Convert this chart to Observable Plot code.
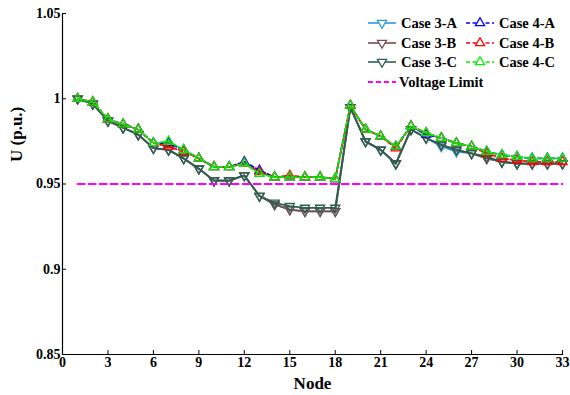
<!DOCTYPE html>
<html>
<head>
<meta charset="utf-8">
<script src="https://cdn.jsdelivr.net/npm/d3@7"></script>
<script src="https://cdn.jsdelivr.net/npm/@observablehq/plot@0.6"></script>
<style>
  html, body { margin: 0; padding: 0; background: #fff; }
  #wrap { position: relative; width: 570px; height: 395px; }
  #wrap svg { font-family: "Liberation Serif", "Times New Roman", serif; }
</style>
</head>
<body>
<div id="wrap"></div>
<script>
const nodes = [1,2,3,4,5,6,7,8,9,10,11,12,13,14,15,16,17,18,19,20,21,22,23,24,25,26,27,28,29,30,31,32,33];

const case3A = [1.000,0.997,0.987,0.983,0.979,0.971,0.970,0.965,0.959,0.952,0.952,0.955,0.943,0.938,0.935,0.934,0.934,0.934,0.995,0.975,0.970,0.962,0.982,0.977,0.972,0.969,0.968,0.965,0.963,0.962,0.962,0.962,0.962];
const case3B = [1.000,0.997,0.987,0.983,0.979,0.971,0.970,0.965,0.959,0.952,0.952,0.955,0.943,0.938,0.935,0.934,0.934,0.934,0.995,0.975,0.970,0.962,0.982,0.977,0.973,0.970,0.968,0.965,0.963,0.962,0.962,0.962,0.962];
const case3C = [1.000,0.997,0.987,0.983,0.979,0.971,0.970,0.965,0.959,0.952,0.952,0.955,0.943,0.939,0.937,0.936,0.936,0.936,0.995,0.975,0.970,0.962,0.982,0.977,0.973,0.970,0.968,0.966,0.963,0.962,0.962,0.962,0.962];
const case4A = [1.000,0.998,0.988,0.985,0.982,0.974,0.974,0.970,0.965,0.960,0.960,0.963,0.958,0.954,0.954,0.954,0.954,0.953,0.996,0.982,0.978,0.972,0.984,0.979,0.977,0.974,0.972,0.969,0.967,0.966,0.965,0.965,0.965];
const case4B = [1.000,0.998,0.988,0.985,0.982,0.974,0.972,0.969,0.965,0.960,0.960,0.962,0.957,0.954,0.955,0.954,0.954,0.953,0.996,0.982,0.978,0.971,0.984,0.980,0.977,0.974,0.972,0.968,0.965,0.964,0.963,0.963,0.963];
const case4C = [1.000,0.998,0.988,0.985,0.982,0.974,0.975,0.970,0.965,0.960,0.960,0.962,0.956,0.954,0.954,0.954,0.954,0.953,0.996,0.982,0.978,0.972,0.984,0.980,0.977,0.974,0.972,0.969,0.967,0.966,0.965,0.965,0.965];

const seriesNames = ["Case 3-A","Case 3-B","Case 3-C","Case 4-A","Case 4-B","Case 4-C"];
const seriesValues = [case3A, case3B, case3C, case4A, case4B, case4C];
const seriesColors = ["#2b9bd6","#7b4b4b","#2f5f4c","#0000ff","#ff0000","#00ee00"];
const seriesDash = [null, null, null, "4,2.5", "4,2.5", "4,2.5"];
const seriesDown = [true, true, true, false, false, false];

const voltageLimit = 0.95;
const limitNodes = [1, 33];
const limitName = "Voltage Limit";
const limitColor = "#ff00ff";

const xTicks = [0,3,6,9,12,15,18,21,24,27,30,33];
const yTicks = [0.85,0.9,0.95,1,1.05];

// inverted triangle symbol
const triangleDown = {
  draw(context, size) {
    const y = -Math.sqrt(size / (Math.sqrt(3) * 3));
    context.moveTo(0, -y * 2);
    context.lineTo(-Math.sqrt(3) * y, y);
    context.lineTo(Math.sqrt(3) * y, y);
    context.closePath();
  }
};

const marks = [];
seriesNames.forEach((name, i) => {
  const data = nodes.map((n, j) => ({node: n, u: seriesValues[i][j]}));
  marks.push(Plot.line(data, {x: "node", y: "u", stroke: seriesColors[i], strokeWidth: 1.8, strokeDasharray: seriesDash[i]}));
  marks.push(Plot.dot(data, {x: "node", y: "u", stroke: seriesColors[i], strokeWidth: 1.3, fill: "none", r: 3.4, symbol: seriesDown[i] ? triangleDown : "triangle"}));
});
marks.push(Plot.line(limitNodes.map(n => ({node: n, u: voltageLimit})), {x: "node", y: "u", stroke: limitColor, strokeWidth: 2, strokeDasharray: "7,4"}));

const chart = Plot.plot({
  width: 570,
  height: 395,
  marginLeft: 62,
  marginRight: 8,
  marginTop: 13,
  marginBottom: 41,
  style: {fontFamily: "'Liberation Serif', 'Times New Roman', serif", background: "#fff"},
  x: {domain: [0, 33]},
  y: {domain: [0.85, 1.05]},
  marks: [
    ...marks,
    Plot.axisX({ticks: xTicks, tickSize: -4, tickPadding: 7, tickFormat: d => String(d), fontSize: 14, fontWeight: "bold", label: null}),
    Plot.axisY({ticks: yTicks, tickSize: -4, tickPadding: 6, tickFormat: d => String(d), fontSize: 14, fontWeight: "bold", label: null}),
    Plot.frame({anchor: "left", stroke: "#000", strokeWidth: 1.2}),
    Plot.frame({anchor: "bottom", stroke: "#000", strokeWidth: 1.2}),
    Plot.text(["Node"], {frameAnchor: "bottom", dy: 34, fontSize: 17, fontWeight: "bold", fill: "#000"}),
    Plot.text(["U (p.u.)"], {frameAnchor: "left", dx: -46, dy: -22, rotate: -90, fontSize: 17, fontWeight: "bold", fill: "#000"})
  ]
});
document.getElementById("wrap").appendChild(chart);

// legend overlay
const legend = d3.select("#wrap").append("svg")
  .attr("width", 210).attr("height", 90)
  .style("position", "absolute").style("left", "360px").style("top", "10px")
  .style("font-family", "'Liberation Serif', 'Times New Roman', serif");
const entries = seriesNames.map((name, i) => ({name, color: seriesColors[i], dash: seriesDash[i], down: seriesDown[i], col: i < 3 ? 0 : 1, row: i % 3, marker: true}));
entries.push({name: limitName, color: limitColor, dash: "5,3", col: 0, row: 3, marker: false});
const colX = [8, 106];
const rowY = [13, 33, 52, 72];
entries.forEach(e => {
  const g = legend.append("g").attr("transform", `translate(${colX[e.col]},${rowY[e.row]})`);
  g.append("line").attr("x1", 0).attr("x2", 28).attr("y1", 0).attr("y2", 0)
    .attr("stroke", e.color).attr("stroke-width", e.marker ? 1.6 : 2).attr("stroke-dasharray", e.dash);
  if (e.marker) {
    const sym = d3.symbol(e.down ? triangleDown : d3.symbolTriangle, 3.4 * 3.4 * Math.PI);
    g.append("path").attr("d", sym()).attr("transform", "translate(14,0)")
      .attr("fill", "#fff").attr("stroke", e.color).attr("stroke-width", 1.3);
  }
  g.append("text").attr("x", e.marker ? 33 : 31).attr("y", 0).attr("dy", "0.35em")
    .attr("font-size", 14.5).attr("font-weight", "bold").attr("fill", "#000").text(e.name);
});
</script>
</body>
</html>
